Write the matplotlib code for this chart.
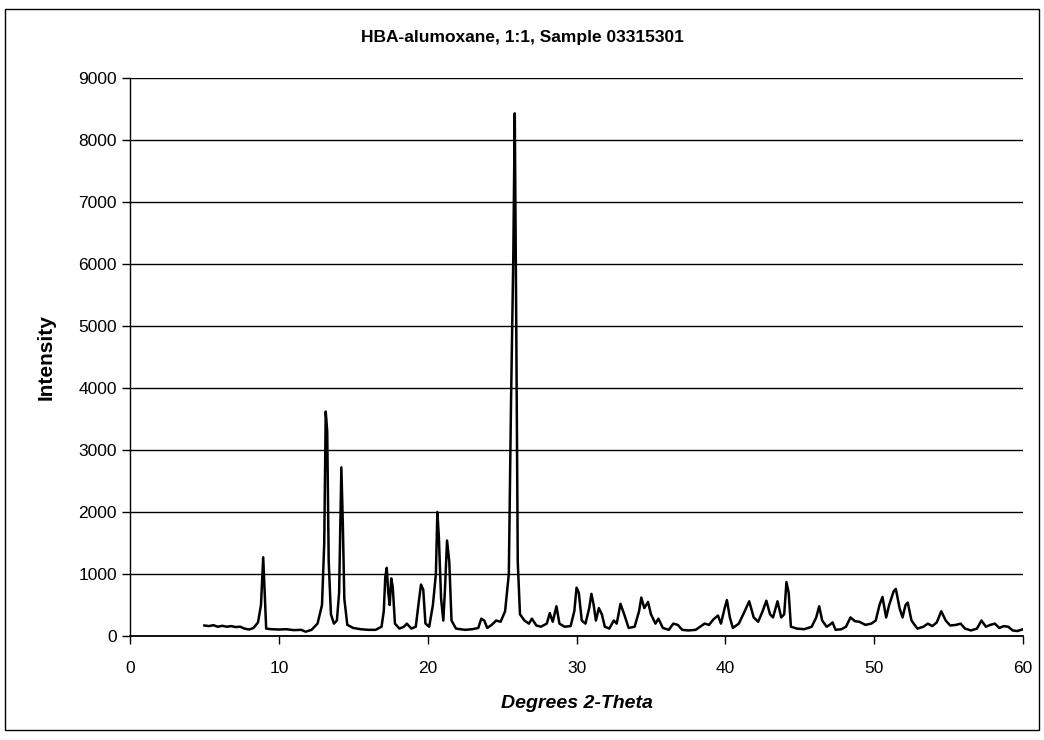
import matplotlib
matplotlib.use("Agg")
import matplotlib.pyplot as plt
from matplotlib.patches import Rectangle

plt.rcParams['font.family'] = ['Liberation Sans', 'DejaVu Sans']

# pattern, (2-theta, counts)
two_theta = [
    5.0, 5.3, 5.6, 5.9, 6.2, 6.5, 6.8, 7.1, 7.4, 7.7, 8.0, 8.3, 8.6, 8.8, 8.95, 9.05, 9.15,
    9.5, 10.0, 10.5, 11.0, 11.5, 11.8, 12.2, 12.6, 12.9, 13.05, 13.15, 13.25, 13.35, 13.5,
    13.7, 13.9, 14.05, 14.2, 14.3, 14.4, 14.6, 15.0, 15.5, 16.0, 16.5, 16.9, 17.05, 17.15,
    17.25, 17.35, 17.45, 17.55, 17.65, 17.8, 18.1, 18.4, 18.6, 18.9, 19.2, 19.4, 19.55,
    19.7, 19.85, 20.1, 20.35, 20.55, 20.65, 20.75, 20.9, 21.05, 21.15, 21.3, 21.45, 21.6,
    21.9, 22.5, 23.0, 23.4, 23.6, 23.8, 24.0, 24.3, 24.6, 24.9, 25.2, 25.45, 25.6, 25.75,
    25.85, 25.95, 26.05, 26.2, 26.5, 26.8, 27.0, 27.3, 27.6, 28.0, 28.2, 28.4, 28.65,
    28.85, 29.2, 29.6, 29.85, 30.0, 30.15, 30.35, 30.6, 30.85, 31.0, 31.15, 31.3, 31.5,
    31.7, 31.9, 32.2, 32.5, 32.7, 32.95, 33.2, 33.5, 33.9, 34.2, 34.35, 34.55, 34.8, 35.0,
    35.3, 35.5, 35.8, 36.2, 36.5, 36.8, 37.1, 37.5, 38.0, 38.3, 38.6, 38.9, 39.2, 39.5,
    39.7, 39.95, 40.1, 40.3, 40.5, 40.9, 41.2, 41.6, 41.9, 42.2, 42.5, 42.75, 43.0, 43.2,
    43.5, 43.75, 43.95, 44.1, 44.25, 44.4, 44.8, 45.3, 45.8, 46.1, 46.3, 46.5, 46.8, 47.0,
    47.2, 47.4, 47.8, 48.1, 48.4, 48.7, 49.0, 49.4, 49.8, 50.1, 50.35, 50.55, 50.8, 51.0,
    51.3, 51.45, 51.7, 51.9, 52.1, 52.25, 52.5, 52.9, 53.3, 53.6, 53.9, 54.2, 54.5, 54.8,
    55.1, 55.5, 55.8, 56.1, 56.5, 56.9, 57.2, 57.5, 57.8, 58.1, 58.4, 58.7, 59.0, 59.3,
    59.6, 60.0,
]
intensity = [
    170, 160, 175, 150, 165, 150, 160, 145, 150, 120, 105, 130, 220, 500, 1270, 700, 120,
    110, 105, 110, 95, 100, 70, 100, 200, 500, 1500, 3620, 3300, 1200, 350,
    200, 250, 700, 2720, 1800, 600, 180, 130, 110, 100, 100, 150, 400, 950,
    1100, 700, 500, 930, 800, 200, 120, 150, 200, 120, 150, 550, 830,
    750, 200, 150, 500, 1000, 2000, 1600, 600, 250, 700, 1540, 1200, 250,
    120, 100, 110, 130, 280, 250, 130, 180, 250, 230, 400, 1000, 3800, 6100,
    8430, 5000, 1200, 350, 250, 200, 280, 170, 150, 200, 370, 230, 480,
    200, 150, 160, 400, 780, 700, 250, 200, 450, 680, 500, 250, 450,
    350, 150, 120, 250, 200, 520, 350, 130, 150, 400, 620, 450, 550, 350,
    200, 280, 130, 100, 200, 180, 100, 90, 100, 150, 200, 180, 270, 330,
    200, 450, 580, 300, 130, 200, 350, 560, 300, 230, 400, 570, 350, 300,
    560, 300, 350, 870, 700, 150, 120, 110, 150, 300, 480, 250, 150, 180,
    220, 100, 110, 150, 300, 240, 230, 180, 200, 250, 500, 630, 300, 500,
    720, 760, 450, 300, 500, 540, 250, 120, 150, 200, 160, 220, 400, 250,
    170, 180, 200, 120, 90, 120, 250, 150, 180, 200, 130, 160, 150, 90,
    80, 110,
]

x_ticks = [0, 10, 20, 30, 40, 50, 60]
y_ticks = [0, 1000, 2000, 3000, 4000, 5000, 6000, 7000, 8000, 9000]

fig = plt.figure(figsize=(10.44, 7.4), dpi=100)
ax = fig.add_axes([0.1245, 0.1405, 0.8555, 0.7541])

ax.plot(two_theta, intensity, color='black', linewidth=1.8)

ax.set_xlim(0, 60)
ax.set_ylim(0, 9000)
ax.set_xticks(x_ticks)
ax.set_yticks(y_ticks)
ax.tick_params(labelsize=12.5, color='black', length=6, width=1, direction='out')
ax.tick_params(axis='x', pad=12)

ax.grid(axis='y', color='black', linewidth=1)
ax.set_axisbelow(True)
for side in ['top', 'right']:
    ax.spines[side].set_visible(False)
ax.spines['left'].set_linewidth(1)
ax.spines['bottom'].set_linewidth(1.3)

ax.set_xlabel('Degrees 2-Theta', fontsize=14, fontweight='bold', fontstyle='italic', labelpad=14)
ax.set_ylabel('Intensity', fontsize=15, fontweight='bold', labelpad=16)
fig.text(0.5, 0.949, 'HBA-alumoxane, 1:1, Sample 03315301', ha='center', va='center',
         fontsize=12.5, fontweight='bold')

# outer frame round the whole chart
fig.patches.append(Rectangle((0.005, 0.014), 0.99, 0.974, transform=fig.transFigure,
                             fill=False, edgecolor='black', linewidth=1))

fig.savefig('out.png', dpi=100)
